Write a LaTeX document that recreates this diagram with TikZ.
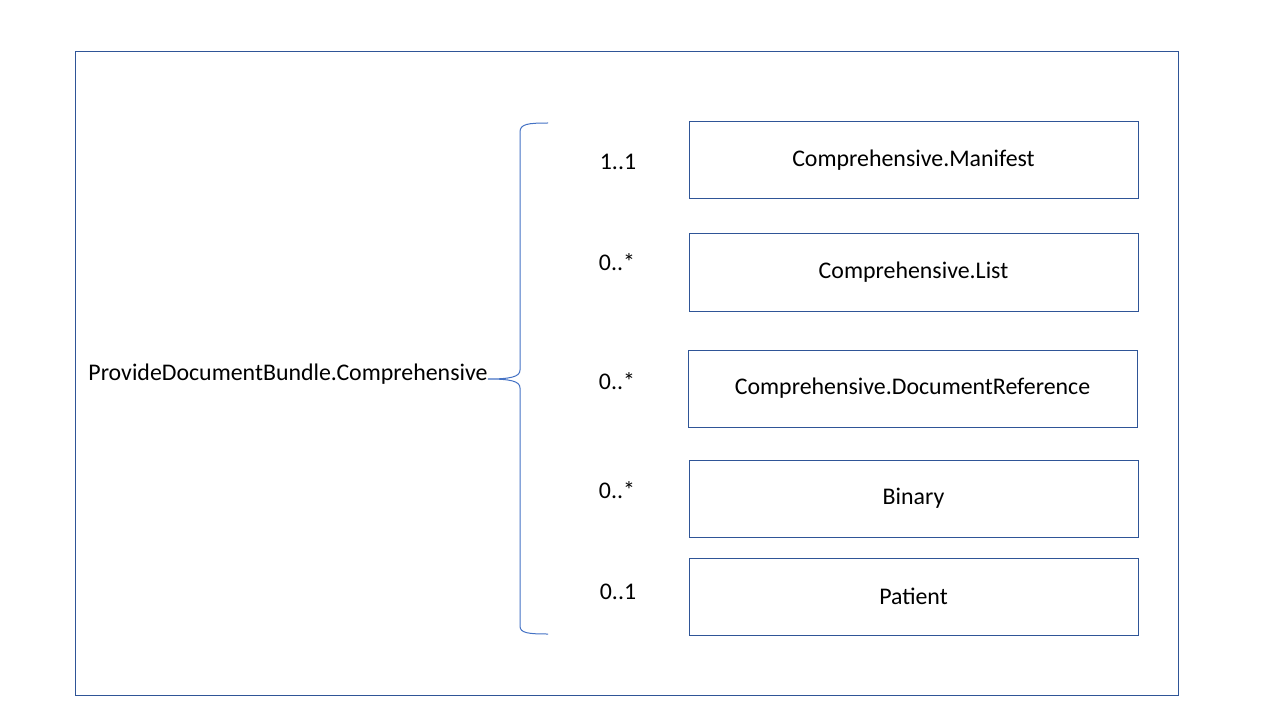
\documentclass[tikz,border=0pt]{standalone}
\usepackage{fontspec}
\setmainfont{Carlito}
\usetikzlibrary{positioning}
\definecolor{boxblue}{HTML}{2F5597}
\definecolor{braceblue}{HTML}{4472C4}
\tikzset{
	x=0.75pt, y=-0.75pt,
	every node/.style={font=\fontsize{17.9}{21}\selectfont},
	res/.style={draw=boxblue, line width=0.75pt, minimum width=449*0.75pt, minimum height=77*0.75pt, inner sep=0pt},
	card/.style={inner sep=0pt}
}
\begin{document}
\begin{tikzpicture}
\useasboundingbox (0,0) rectangle (1280,720);
\draw[boxblue, line width=0.75pt] (75.5,51.5) rectangle (1178.5,695.5);
\node (bundle) [card] at (288,374) {ProvideDocumentBundle.Comprehensive};
\node (manifest) [res] at (913.5,160.5) {Comprehensive.Manifest};
\node (list) [res] at (913.5,272.5) {Comprehensive.List};
\node (docref) [res] at (912.5,388.5) {Comprehensive.DocumentReference};
\node (binary) [res] at (913.5,498.5) {Binary};
\node (patient) [res] at (913.5,596.5) {Patient};
\node (m1) [card] at (618,162) {1..1};
\node (m2) [card] at (617,262) {0..*};
\node (m3) [card] at (617,381) {0..*};
\node (m4) [card] at (617,490) {0..*};
\node (m5) [card] at (618,592) {0..1};
% brace
\draw[braceblue, line width=0.75pt] (548,123) .. controls (528,123) and (520,124) .. (520,132) -- (520,370)
  .. controls (520,377) and (510,379) .. (bundle.east |- 0,379) .. controls (510,379) and (520,381) .. (520,388)
  -- (520,626) .. controls (520,633) and (528,634) .. (548,634);
\end{tikzpicture}
\end{document}
